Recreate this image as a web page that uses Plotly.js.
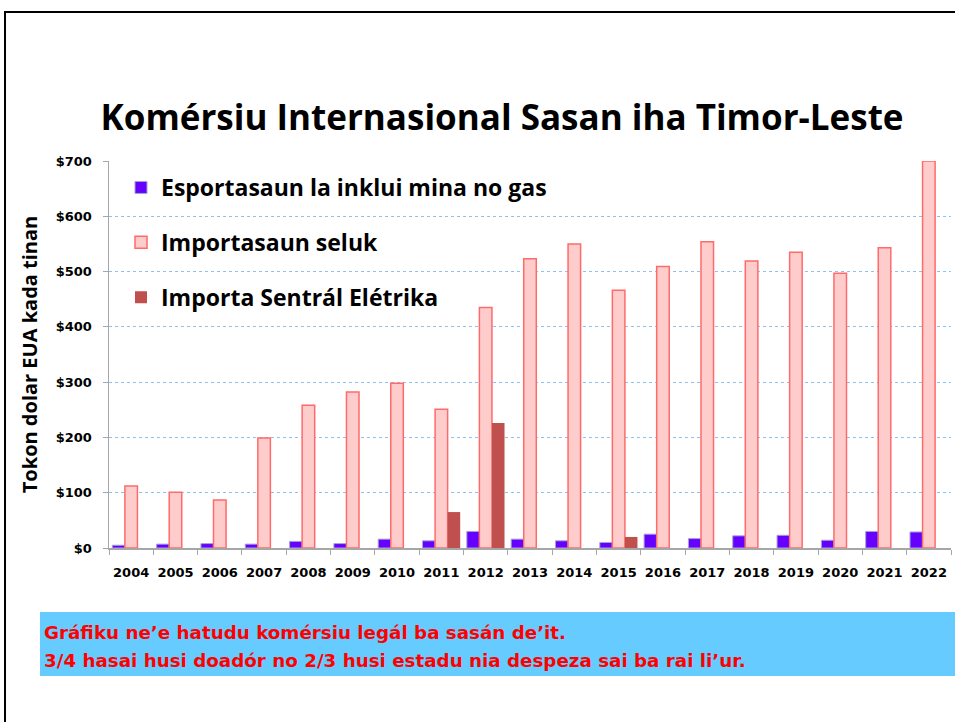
<!DOCTYPE html>
<html>
<head>
<meta charset="utf-8">
<script src="https://cdn.plot.ly/plotly-3.0.1.min.js"></script>
<style>html,body{margin:0;padding:0;background:#fff;}#chart{width:955px;height:722px;}</style>
</head>
<body>
<div id="chart"></div>
<script>
const years = ['2004','2005','2006','2007','2008','2009','2010','2011','2012','2013','2014','2015','2016','2017','2018','2019','2020','2021','2022'];
const exportsNonOil = [5, 7, 8, 7, 12, 8, 16, 13, 30, 16, 13, 10, 25, 17, 22, 23, 14, 30, 29];
const otherImports = [112, 101, 87, 199, 258, 282, 298, 251, 435, 523, 550, 466, 509, 554, 519, 535, 497, 543, 700];
const powerPlantImports = [null, null, null, null, null, null, null, 65, 226, null, null, 20, null, null, null, null, null, null, null];
const seriesNames = ['Esportasaun la inklui mina no gas', 'Importasaun seluk', 'Importa Sentrál Elétrika'];

const W = 955, H = 722;
const L = 109, R = 951, T = 161, B = 548;
const px = x => (x - L) / (R - L);
const py = y => (B - y) / (B - T);

const traces = [
  {type:'bar', x: years, y: exportsNonOil, name: seriesNames[0], legendgroup:'a',
   marker:{color:'#6600FF', line:{color:'#A3A3D6', width:1}}},
  {type:'bar', x: years, y: otherImports, name: seriesNames[1], legendgroup:'b',
   marker:{color:'#FFCCCC', line:{color:'#FF6B6B', width:1.5}}},
  {type:'bar', x: years, y: powerPlantImports, name: seriesNames[2], legendgroup:'c',
   marker:{color:'#C0504D', line:{color:'#C0504D', width:0}}}
];

const font = '"Open Sans", Lato, sans-serif';
const tickFont = '"DejaVu Sans", Verdana, sans-serif';
const noteFont = '"DejaVu Sans", Verdana, sans-serif';

const layout = {
  width: W, height: H,
  margin: {l: L, r: W - R, t: T, b: H - B},
  paper_bgcolor: '#ffffff', plot_bgcolor: '#ffffff',
  barmode: 'group', bargap: 0.15, bargroupgap: 0,
  font: {family: font, color: '#000'},
  title: {text: '<b>Komérsiu Internasional Sasan iha Timor-Leste</b>', font: {family: font, size: 35, color: '#000'},
          x: 502 / W, xanchor: 'center', y: 1 - 118 / H, yanchor: 'middle'},
  showlegend: true,
  legend: {x: px(121), xanchor: 'left', y: py(166), yanchor: 'top', bgcolor: 'rgba(0,0,0,0)',
           font: {family: font, size: 23, color: '#000', weight: 'bold'}, traceorder: 'grouped', tracegroupgap: 22},
  xaxis: {type: 'category', showgrid: false, showline: true, linecolor: '#A6A6A6', linewidth: 1.5,
          ticks: 'outside', tickson: 'boundaries', ticklen: 5, tickcolor: '#A6A6A6', ticklabelstandoff: 12,
          tickangle: 0,
          tickfont: {family: tickFont, size: 13, color: '#000', weight: 'bold'}, fixedrange: true},
  yaxis: {range: [0, 700], tickmode: 'linear', tick0: 0, dtick: 100, tickprefix: '$', showtickprefix: 'all',
          showline: true, linecolor: '#A6A6A6', linewidth: 1.5,
          ticks: 'outside', ticklen: 5, tickcolor: '#A6A6A6', zeroline: false, ticklabelstandoff: 8,
          gridcolor: '#8EC2EE', gridwidth: 1, griddash: 'dot',
          tickfont: {family: tickFont, size: 13, color: '#000', weight: 'bold'},
          title: {text: '<b>Tokon dolar EUA kada tinan</b>', font: {family: font, size: 20, color: '#000'}, standoff: 12}},
  shapes: [
    {type:'rect', xref:'paper', yref:'paper', x0: px(40), x1: px(962), y0: py(676), y1: py(612),
     fillcolor:'#66CCFF', line:{width:0}, layer:'below'},
    {type:'rect', xref:'paper', yref:'paper', x0: px(5), x1: px(962), y0: py(730), y1: py(12),
     fillcolor:'rgba(0,0,0,0)', line:{color:'#000', width:2}}
  ],
  annotations: [
    {xref:'paper', yref:'paper', x: px(42), xanchor:'left', y: py(632), yanchor:'middle', showarrow:false,
     text:'<b>Gráfiku ne’e hatudu komérsiu legál ba sasán de’it.</b>',
     font:{family: noteFont, size:18.3, color:'#FF0000'}},
    {xref:'paper', yref:'paper', x: px(42), xanchor:'left', y: py(660), yanchor:'middle', showarrow:false,
     text:'<b>3/4 hasai husi doadór no 2/3 husi estadu nia despeza sai ba rai li’ur.</b>',
     font:{family: noteFont, size:18.3, color:'#FF0000'}}
  ]
};

Plotly.newPlot('chart', traces, layout, {displayModeBar: false, staticPlot: true});
</script>
</body>
</html>
